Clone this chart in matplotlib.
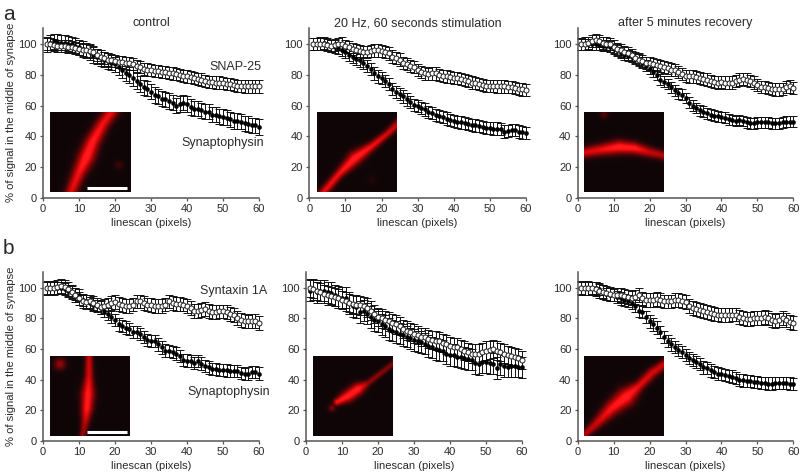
import numpy as np
import matplotlib
matplotlib.use("Agg")
import matplotlib.pyplot as plt

plt.rcParams['font.family'] = ['Liberation Sans', 'DejaVu Sans']
W, H = 800, 475
TXT = '#2a2a2a'
AX = '#555555'

linescan = list(range(1, 61))
x_ticks = [0, 10, 20, 30, 40, 50, 60]
y_ticks = [0, 20, 40, 60, 80, 100]
titles = ['control', '20 Hz, 60 seconds stimulation', 'after 5 minutes recovery']

a1_open = [100,100,99.5,99,99,99,98.5,98,97.5,97, 96.5,96,95.5,95,93,92,91,90,89.5,89, 88.5,88.5,88,87.5,87,86,85,84,83.5,83, 82.5,82.5,82,82,81.5,81,80.5,80,79.5,79, 78.5,78,77.5,77,76,75.5,75.5,75,75,74.5, 74,74,73.5,73,73,72.5,72.5,72.5,72.5,72.5]
a1_syn = [100,101,102,101.5,101,101,100.5,100,99,98, 97,96,95,93,92,91,90,89,88,87, 85,83,81,80,78,76,74,72,71,69, 67,66,64.5,64,63,62,60,61,62,61, 59,58,58,57,56,56,54,54,53,52.5, 52,51,50,50,49.5,48.5,48,47,47,46]
a2_open = [100,100,100,100,99.5,99,99.5,100,100.5,99, 98,97,96,95.5,95,95,95.5,96,96,95.5, 95,94,92,91,90,88,87,86,85,83, 82,81,80.5,81,81,80,79.5,79,78.5,78, 78,77.5,76.5,76,75,74.5,74,73.5,73,73, 73,72.5,72.5,72.5,72,72,71.5,71,70.5,70]
a2_syn = [100,100,100.5,101,100,99,98.5,97.5,96.5,95, 93,91.5,90.5,89.5,88,86,84,81,79,78, 76,74,71,69,67.5,66,64,62.5,60.5,59.5, 58.5,57.5,56,55,54,53,52.5,51.5,50.5,50, 49.5,49,48.5,48,47.5,47,46.5,46,45.5,45.5, 45,45,44.5,43,43.5,44,44,43,42.5,42]
a3_open = [100,100.5,101,102,102.5,102,101,100.5,100,98.5, 97,96,95,94,93,91,90,89,88,87.5, 87,86.5,86,85,84.5,83.5,83,82,80.5,79.5, 79,79,78.5,78,77.5,77,76,75.5,75,75.5, 75,75,75,76,77,77.5,77,76,75,73.5, 72,72,71.5,71,70.5,70.5,71,72,72.5,71.5]
a3_syn = [100,100,100,100,100,99.5,99,99,98.5,97, 96,94.5,93,92.5,92,91,90,88,86,84, 82,80,77,75.5,74,72,70,68,67,65, 62,60,58.5,57,56,55,54,53.5,53,52.5, 52,51,50.5,50,50.5,50,49,48.5,48.5,49, 49,49,49,48.5,48.5,48.5,49,49.5,49.5,49.5]
b1_open = [100,100,100,100.5,101,100.5,99,97,95,93, 91,90.5,91,90,89,87.5,88,89,90,90.5, 89.5,88.5,88,88,89,91,91,90,89,88.5, 88,88,88,89,91,90,89.5,89.5,89,88, 87,85,85,85.5,86,85,84,84,84.5,84.5, 84,83,82,80,79,78.5,78,78.5,78.5,77]
b1_syn = [100,100,100,100,100,99,98,97,96,95, 92,91,90,89,88,87,85,83,81,79, 76,75,74,73,71,71,70,68,66,65, 65,63,61,59,58.5,58,57,55.5,53,52.5, 52,51,52,50.5,49,48,47,47,46.5,46.5, 46,45.5,45.5,45.5,44.5,43.5,44,45,45,44]
b2_open = [100,99,98,97,96,95,94.5,94,93,92, 91,90,89.5,89,88.5,88,87,85,83,81, 80,79,78,77,76,75,73,72,71,70, 69,68,68,66.5,66,65.5,65,64,63,62, 61.5,61,60,59,58,57,57,57,58,59, 59.5,60,59,58,57,56,55.5,54.5,54,53]
b2_syn = [98,99,97,98,98,97,96.5,95,94,93.5, 93.5,90,88,87.5,84,85,83,81,79,78, 76,75,73,72,71,70,69,68,67,66, 65,64.5,63.5,62,61,60,59.5,59,57,56, 56,55,54.5,54,53.5,53,51,50,51.5,51.5, 51,50.5,47.5,50,49,48.5,49,49,48.5,48]
b3_open = [100,100,100,99.5,99,98,97,96.5,96,95.5, 95.5,95,94.5,94,93.5,94,95,93,92,92, 92,92.5,92,91,91,91,92,92,91.5,90.5, 88,87,86,85.5,85,84,83.5,83,82.5,82, 82,82,82.5,82.5,81,80,79.5,79.5,80,80, 80,81,80,79,78.5,79,80,79,77.5,77]
b3_syn = [100,99.5,99.5,100,100,99,97.5,96,95.5,95, 94,93,92,91.5,90,88,85,84,81,78, 76,74,71,68,65,63,61.5,59.5,58,56, 54,53,51.5,50,48,47.5,46,45,44,43.5, 43,42.5,42,41,40,39.5,39,39,38.5,38.5, 38,38,37.5,37.5,38,38,38,38,37.5,37]

err_open = [4, 4, 4, 4.5, 6, 4.5]
err_syn = [5, 4, 3.5, 4, 7, 4]
opens = [a1_open, a2_open, a3_open, b1_open, b2_open, b3_open]
syns = [a1_syn, a2_syn, a3_syn, b1_syn, b2_syn, b3_syn]

# inset photos: ridge control points (x, y, sigma, brightness) in an 80x80 frame
ridges = [
    [(20,82,4,.75),(28,62,4.5,.85),(36,45,5.5,1),(42,30,5,.95),(52,12,4.5,.85),(62,-2,4.5,.8)],
    [(5,82,3,.8),(22,62,3,.85),(38,46,4.5,1),(55,34,3,.85),(70,22,2.5,.75),(82,11,3,.7)],
    [(-2,41,3.5,.75),(15,38,4,.8),(35,35,4.5,1),(50,36,4,.95),(65,40,3.5,.7),(82,44,3,.6)],
    [(39,-2,2.5,.7),(39,20,3,.75),(38,38,4.5,.95),(37,52,4,.95),(35,68,2.8,.6),(32,82,2,.45)],
    [(24,46,2.5,.9),(35,40,4,1),(45,33,4,1),(55,27,2.2,.5),(68,17,2,.45),(82,6,2,.4)],
    [(-1,80,2.5,.6),(12,68,3.5,.7),(28,52,5,.9),(42,41,6,1),(55,30,3.5,.8),(68,17,3.5,.75),(82,7,3,.7)],
]
spots = [[(68,53,3,.18)], [(55,68,3,.08)], [(20,2,3,.25)], [(10,8,4,.5)], [(19,52,2.5,.4)], []]
inset_boxes = [(49.7,112),(316.7,112),(584.3,112),(50,356),(313.3,356),(584.3,356)]
inset_size = 80
scale_bars = {0: (37, 77, 75.5), 3: (37, 77, 75.5)}

# axes boxes in pixels: x at 0, x at 60, y at 0, y at 100
boxes = [(43,259,197.5,44.3),(309.3,526,197.5,44.3),(577.7,793.3,197.5,44.3),
         (43,259,441,287.7),(306,522,441,287.7),(577.7,793.3,441,287.7)]
text_notes = {0: [('SNAP-25', 53.5, 85.5), ('Synaptophysin', 50, 35.5)],
              3: [('Syntaxin 1A', 53, 98), ('Synaptophysin', 51.5, 32)]}

def add_axes_px(l, r, bottom, top):
    return fig.add_axes([l/W, 1-bottom/H, (r-l)/W, (bottom-top)/H])

def photo(ridge, spot):
    g = np.arange(0, 80, 0.5) + 0.25
    X, Y = np.meshgrid(g, g)
    r = np.array(ridge)
    seg = np.hypot(np.diff(r[:,0]), np.diff(r[:,1]))
    d = np.r_[0, np.cumsum(seg)]
    t = np.linspace(0, d[-1], 300)
    px, py, ps, pb = (np.interp(t, d, r[:,i]) for i in range(4))
    img = np.zeros_like(X)
    for a, b, s, v in zip(px, py, ps, pb):
        img = np.maximum(img, v*np.exp(-((X-a)**2+(Y-b)**2)/(2*s*s)))
    for a, b, s, v in spot:
        img = np.maximum(img, v*np.exp(-((X-a)**2+(Y-b)**2)/(2*s*s)))
    rgb = np.zeros(X.shape+(3,))
    rgb[...,0] = np.clip(0.06+img*1.05, 0, 1)
    rgb[...,1] = np.clip((img-0.7)*0.5, 0, 1)*0.6 + 0.02
    rgb[...,2] = np.clip((img-0.7)*0.5, 0, 1)*0.6 + 0.03
    return rgb

fig = plt.figure(figsize=(W/100, H/100), dpi=100, facecolor='white')

for i, (l, r, b, t) in enumerate(boxes):
    ax = add_axes_px(l, r, b, t - (16.8 if i < 3 else 16))
    ppu = (b-t)/100
    ax.set_xlim(0, 60)
    ax.set_ylim(0, (b-(t-(16.8 if i < 3 else 16)))/ppu)
    ax.patch.set_alpha(0)
    for s in ('top', 'right'):
        ax.spines[s].set_visible(False)
    for s in ('left', 'bottom'):
        ax.spines[s].set_color(AX)
        ax.spines[s].set_linewidth(1.1)
    ax.set_xticks(x_ticks)
    ax.set_yticks(y_ticks)
    ax.tick_params(direction='out', length=2.5, width=0.9, color=AX,
                   labelsize=8, labelcolor=TXT, pad=2)
    ax.errorbar(linescan, syns[i], yerr=err_syn[i], fmt='none', ecolor='#111111',
                elinewidth=0.7, capsize=2.6, capthick=0.7, clip_on=False, zorder=2)
    ax.errorbar(linescan, opens[i], yerr=err_open[i], fmt='none', ecolor='#111111',
                elinewidth=0.7, capsize=2.6, capthick=0.7, clip_on=False, zorder=2)
    ax.plot(linescan, syns[i], 'o', ms=3, mfc='black', mec='black', mew=0.3, zorder=3, clip_on=False)
    ax.plot(linescan, opens[i], 'o', ms=3.6, mfc='white', mec='#222222', mew=0.7, zorder=4, clip_on=False)
    ax.set_xlabel('linescan (pixels)', fontsize=8, color=TXT, labelpad=3)
    if i % 3 == 0:
        ax.set_ylabel('% of signal in the middle of synapse', fontsize=8.1, color=TXT, labelpad=4)
        ax.yaxis.set_label_coords(-27/216, 0.5, transform=ax.transAxes)
    if i < 3:
        ax.text(30, 109.8, titles[i], fontsize=9, color=TXT, ha='center', va='bottom')
    for s, xn, yn in text_notes.get(i, []):
        ax.text(xn, yn, s, fontsize=9, color=TXT, ha='center', va='center')

    x0, y0 = inset_boxes[i]
    iax = fig.add_axes([x0/W, 1-(y0+inset_size)/H, inset_size/W, inset_size/H])
    iax.imshow(photo(ridges[i], spots[i]), extent=(0, 80, 80, 0), aspect='auto',
               interpolation='bilinear')
    iax.set_xlim(0, 80); iax.set_ylim(80, 0)
    iax.axis('off')
    if i in scale_bars:
        a, c, yb = scale_bars[i]
        iax.plot([a, c], [yb, yb], color='white', lw=2.2, solid_capstyle='butt')

fig.text(3/W, 1-14/H, 'a', fontsize=15, color=TXT, ha='left', va='center')
fig.text(3/W, 1-249/H, 'b', fontsize=15, color=TXT, ha='left', va='center')

fig.savefig('out.png', dpi=100, facecolor='white')
